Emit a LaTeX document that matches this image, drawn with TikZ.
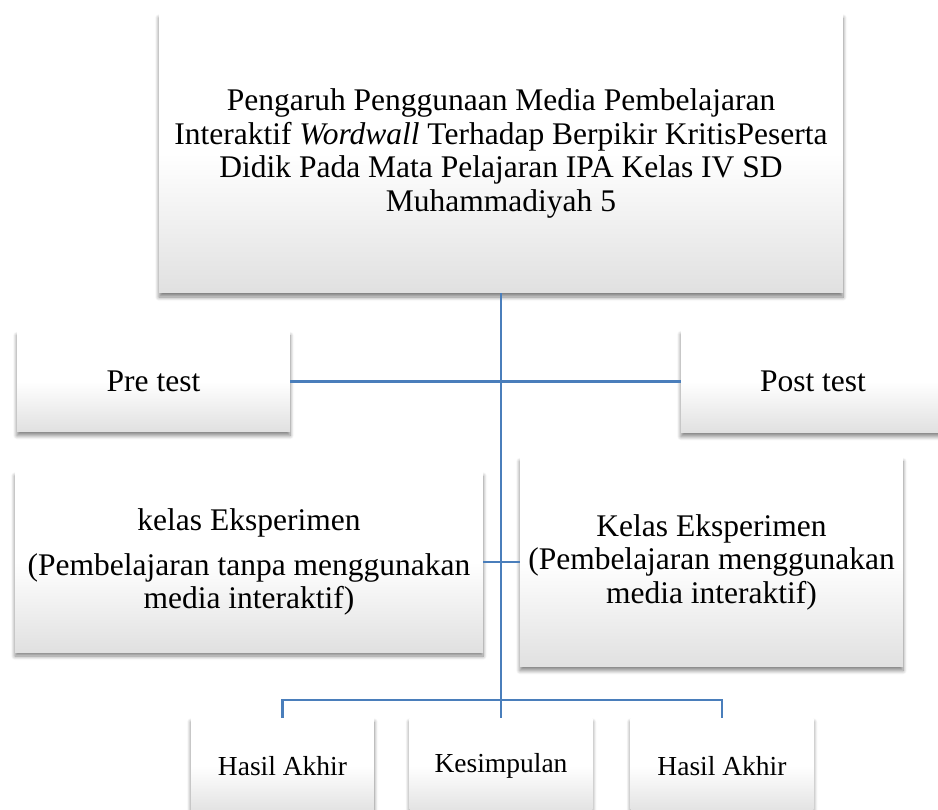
\documentclass[tikz,border=0pt]{standalone}
\usepackage{fontspec}
\setmainfont{Liberation Serif}
\usetikzlibrary{shadows,shadows.blur}
\definecolor{linkblue}{RGB}{74,126,187}
\tikzset{
  box/.style={rectangle, inner sep=0pt, align=center,
    top color=white, bottom color=black!12, middle color=white,
    blur shadow={shadow xshift=0pt, shadow yshift=-4pt, shadow blur radius=4pt, shadow blur steps=8, shadow opacity=50},
    font=\fontsize{31.5}{33.5}\selectfont},
  smallbox/.style={box, font=\fontsize{27.5}{30}\selectfont},
  link/.style={draw=linkblue, line width=2.4pt}
}
\begin{document}
\begin{tikzpicture}[x=1pt,y=-1pt]
\useasboundingbox (0,0) rectangle (938,810);
\clip (0,0) rectangle (938,810);
\node[box, minimum width=684pt, minimum height=279pt] (title) at (501,153.5)
  {Pengaruh Penggunaan Media Pembelajaran\\
   Interaktif \textit{Wordwall} Terhadap Berpikir KritisPeserta\\
   Didik Pada Mata Pelajaran IPA Kelas IV SD\\
   Muhammadiyah 5};
\node[box, minimum width=273pt, minimum height=100pt] (pre) at (153.5,381.5) {Pre test};
\node[box, minimum width=264pt, minimum height=102pt] (post) at (813,381.5) {Post test};
\node[box, minimum width=468pt, minimum height=180pt] (lm) at (249,562)
  {kelas Eksperimen\\[11pt]
   (Pembelajaran tanpa menggunakan\\
   media interaktif)};
\node[box, minimum width=383pt, minimum height=209pt] (rm) at (711.5,562)
  {Kelas Eksperimen\\
   (Pembelajaran menggunakan\\
   media interaktif)};
\node[smallbox, minimum width=183pt, minimum height=96pt] (b1) at (282.5,766) {Hasil Akhir};
\node[smallbox, minimum width=183pt, minimum height=96pt] (b2) at (501,766) {Kesimpulan};
\node[smallbox, minimum width=183pt, minimum height=96pt] (b3) at (722,766) {Hasil Akhir};
\coordinate (j) at (501,700);
\draw[link] (title.south) -- (j);
\draw[link] (pre.east) -- (post.west);
\draw[link] (lm.east) -- (rm.west);
\draw[link] (b1.north) |- (j) -| (b3.north);
\draw[link] (j) -- (b2.north);
\end{tikzpicture}
\end{document}
